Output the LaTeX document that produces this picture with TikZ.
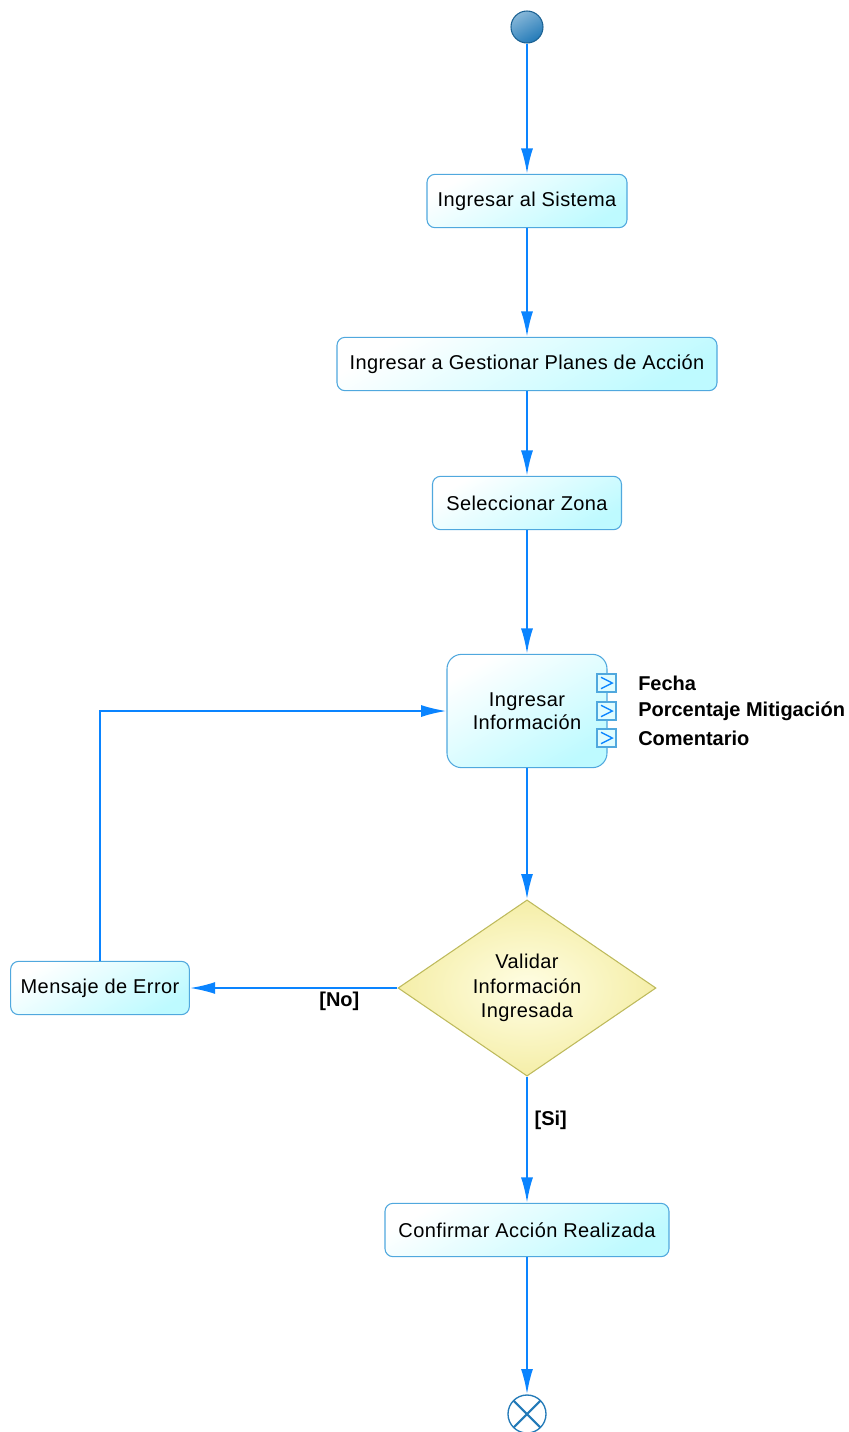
\documentclass[tikz,border=0pt]{standalone}
\usepackage{fontspec}
\setmainfont{Liberation Sans}
\usetikzlibrary{arrows.meta,shapes.geometric}

\definecolor{flujo}{RGB}{10,132,255}
\definecolor{borde}{RGB}{80,168,222}
\definecolor{celeste}{RGB}{190,250,255}
\definecolor{crema}{RGB}{245,238,168}
\definecolor{cremaclara}{RGB}{255,254,228}
\definecolor{oliva}{RGB}{190,186,92}
\definecolor{bola}{RGB}{35,122,184}
\definecolor{bolaclara}{RGB}{135,183,216}

\begin{document}
\begin{tikzpicture}[x=0.75pt,
            y=-0.75pt,
            >={Latex[length=19pt,width=9pt]},
            flow/.style={draw=flujo, line width=1.5pt},
            every edge/.style={flow, ->},
            accion/.style={rectangle, rounded corners=6pt, draw=borde,
                line width=0.8pt, top color=white, bottom color=celeste,
                shading angle=30, minimum height=40pt, inner sep=4pt,
                align=center,
                font=\fontsize{15}{17}\selectfont\addfontfeatures{LetterSpace=2}},
            decision/.style={diamond, draw=oliva, line width=0.8pt,
                inner color=cremaclara, outer color=crema, minimum width=193.5pt,
                minimum height=128pt, inner sep=0pt, align=center,
                font=\fontsize{15}{18.4}\selectfont\addfontfeatures{LetterSpace=2}},
            inicio/.style={circle, draw=bola!80!black, line width=0.8pt,
                top color=bolaclara, bottom color=bola, shading angle=30,
                minimum size=24pt, inner sep=0pt},
            fin/.style={circle, draw=bola, line width=1pt, fill=white,
                minimum size=28.5pt, inner sep=0pt,
                path picture={\draw[-, bola, line width=1.6pt]
                    (path picture bounding box.north west) -- (path picture bounding box.south east)
                    (path picture bounding box.north east) -- (path picture bounding box.south west);}},
            pinbox/.style={rectangle, draw=borde, line width=0.8pt,
                fill=celeste!50, minimum width=14.25pt, minimum height=13.5pt,
                inner sep=0pt,
                path picture={\draw[-, flujo, line width=1pt]
                    ([shift={(3pt,-2.5pt)}]path picture bounding box.north west)
                    -- ([xshift=-2.8pt]path picture bounding box.east)
                    -- ([shift={(3pt,2.5pt)}]path picture bounding box.south west);}},
            pinlabel/.style={anchor=west, inner sep=0pt,
                font=\bfseries\fontsize{15}{18}\selectfont},
            guarda/.style={inner sep=2pt, font=\bfseries\fontsize{15}{18}\selectfont}]

        \useasboundingbox (0,0) rectangle (849,1432);

        \node[inicio]                              (inicio)    at (527,27)   {};
        \node[accion, minimum width=150pt]         (sistema)   at (527,201)  {Ingresar al Sistema};
        \node[accion, minimum width=285pt]         (planes)    at (527,364)  {Ingresar a Gestionar Planes de Acción};
        \node[accion, minimum width=141.75pt]      (zona)      at (527,503)  {Seleccionar Zona};
        \node[accion, minimum width=120pt, minimum height=85pt,
              rounded corners=11pt]                (info)      at (527,711)  {Ingresar\\Información};
        \node[decision]                            (valida)    at (527,988)  {Validar\\Información\\Ingresada};
        \node[accion, minimum width=134pt]         (error)     at (100,988)  {Mensaje de Error};
        \node[accion, minimum width=213pt]         (confirma)  at (527,1230) {Confirmar Acción Realizada};
        \node[fin]                                 (fin)       at (527,1414) {};

        % pines de entrada
        \node[pinbox] (pinfecha)  at (606.5,683) {};
        \node[pinbox] (pinmitig)  at (606.5,711) {};
        \node[pinbox] (pincoment) at (606.5,738) {};
        \node[pinlabel] (fecha)  at (638,683) {Fecha};
        \node[pinlabel] (mitig)  at (638,711) {Porcentaje Mitigación};
        \node[pinlabel] (coment) at (638,738) {Comentario};

        \path (inicio)   edge (sistema)
              (sistema)  edge (planes)
              (planes)   edge (zona)
              (zona)     edge (info)
              (info)     edge (valida)
              (valida)   edge node[guarda, below, pos=0.28] {[No]} (error)
                         edge node[guarda, right, inner sep=5pt, pos=0.35] {[Si]} (confirma)
              (confirma) edge (fin);

        \draw[flow, ->] (error) |- (info);

    \end{tikzpicture}
\end{document}
